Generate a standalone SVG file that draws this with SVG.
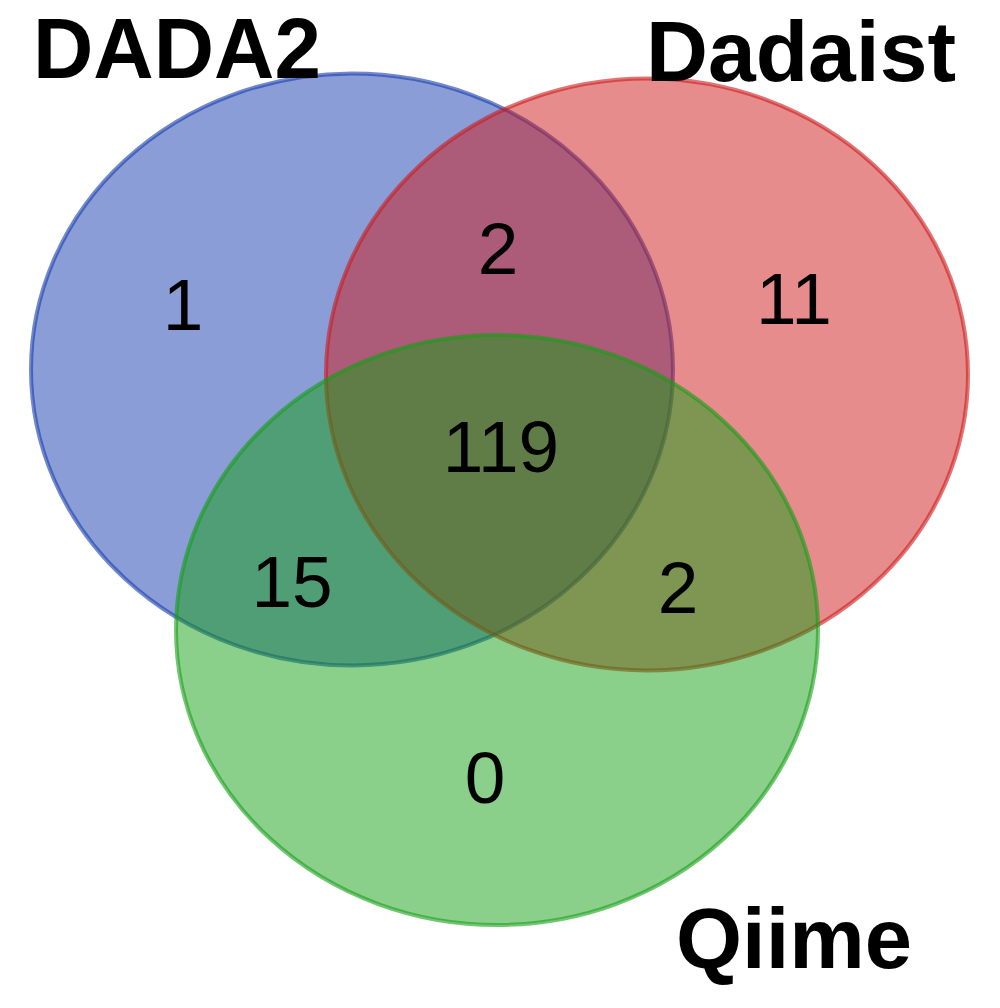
<svg xmlns="http://www.w3.org/2000/svg" width="1000" height="1008" viewBox="0 0 1000 1008">
<style>
.set{fill-opacity:0.5;stroke-opacity:0.6;stroke-width:4}
.lbl{font-family:"Liberation Sans",Arial,sans-serif;font-weight:bold;fill:#000}
.num{font-family:"Liberation Sans",Arial,sans-serif;font-size:73px;fill:#000;text-anchor:middle}
</style>
<rect width="1000" height="1008" fill="#fff"/>
<g id="set-dada2"><ellipse class="set" cx="352" cy="369.5" rx="321" ry="296" fill="#153BAD" stroke="#153BAD"/></g>
<g id="set-dadaist"><ellipse class="set" cx="647" cy="374.5" rx="321" ry="296" fill="#CD1919" stroke="#CD1919"/></g>
<g id="set-qiime"><ellipse class="set" cx="497" cy="630" rx="321" ry="295" fill="#159F15" stroke="#159F15"/></g>
<g id="counts">
<text class="num" x="183" y="330">1</text>
<text class="num" x="498" y="274">2</text>
<text class="num" x="794" y="324">11</text>
<text class="num" x="501" y="472">119</text>
<text class="num" x="292" y="607">15</text>
<text class="num" x="678" y="613">2</text>
<text class="num" x="485" y="803">0</text>
</g>
<g id="labels">
<text class="lbl" x="33" y="78" font-size="86" textLength="288" lengthAdjust="spacingAndGlyphs">DADA2</text>
<text class="lbl" x="646" y="81" font-size="86" textLength="310" lengthAdjust="spacingAndGlyphs">Dadaist</text>
<text class="lbl" x="676" y="968" font-size="85" textLength="236" lengthAdjust="spacingAndGlyphs">Qiime</text>
</g>
</svg>
